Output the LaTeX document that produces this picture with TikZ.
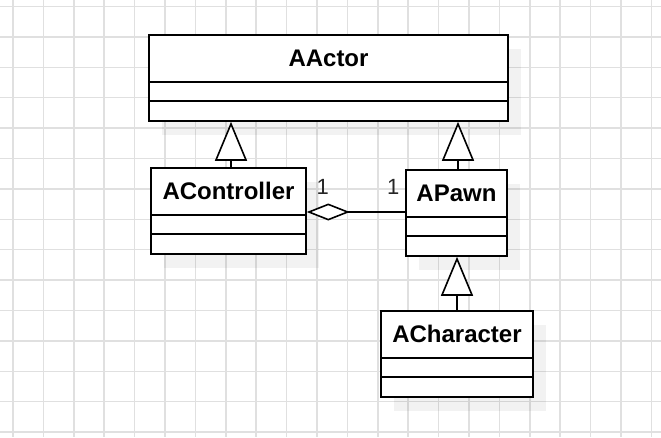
\documentclass[tikz,border=0pt]{standalone}
\usepackage{fontspec}
\setmainfont{Liberation Sans}
\usetikzlibrary{arrows.meta,shadows,calc}
\begin{document}
\begin{tikzpicture}[x=1pt,y=-1pt,
  gridline/.style={draw=black!12, line width=1.5pt},
  classbox/.style={draw=black, line width=1.6pt, fill=white, minimum height=86pt, inner sep=0pt,
    drop shadow={shadow xshift=13pt, shadow yshift=-14pt, fill=black, opacity=0.05}},
  sepline/.style={draw=black, line width=1.6pt},
  title/.style={font=\fontsize{24}{28}\selectfont\bfseries, inner sep=0pt},
  mult/.style={font=\fontsize{22}{26}\selectfont, inner sep=0pt, text=black!85},
  inherit/.style={line width=1.6pt, -{Triangle[fill=white, length=39pt, width=32pt, line width=1.6pt]}},
  agg/.style={line width=1.6pt, -{Diamond[fill=white, length=43pt, width=17pt, line width=1.6pt]}}
]
\useasboundingbox (0,0) rectangle (661,437);
\fill[white] (0,0) rectangle (661,437);
% grid
\foreach \i in {0,...,21} { \draw[gridline] (13+30.4*\i,0) -- (13+30.4*\i,437); }
\foreach \j in {0,...,14} { \draw[gridline] (0,6.5+30.4*\j) -- (661,6.5+30.4*\j); }

% classes
\node[classbox, minimum width=359pt] (actor) at (328.5,78) {};
\node[classbox, minimum width=155pt] (controller) at (228.5,211) {};
\node[classbox, minimum width=101pt] (pawn) at (456.5,213) {};
\node[classbox, minimum width=152pt] (character) at (457,354) {};

\foreach \n in {actor,controller,pawn,character} {
  \draw[sepline] ($(\n.north west)+(0,48)$) -- ($(\n.north east)+(0,48)$);
  \draw[sepline] ($(\n.north west)+(0,67)$) -- ($(\n.north east)+(0,67)$);
}

\node[title] (actorT) at ($(actor.north)+(0,24)$) {AActor};
\node[title] (controllerT) at ($(controller.north)+(0,24)$) {AController};
\node[title] (pawnT) at ($(pawn.north)+(0,24)$) {APawn};
\node[title] (characterT) at ($(character.north)+(0,24)$) {ACharacter};

% inheritance
\draw[inherit] ($(controller.north)+(2.5,0)$) -- ($(controller.north |- actor.south)+(2.5,0)$);
\draw[inherit] ($(pawn.north)+(1.5,0)$) -- ($(pawn.north |- actor.south)+(1.5,0)$);
\draw[inherit] (character.north) -- (character.north |- pawn.south);

% aggregation
\draw[agg] ($(pawn.west)+(0,-1)$) -- ($(controller.east |- pawn.west)+(0,-1)$);
\node[mult] (m1) at ($(controller.east)+(16,-24)$) {1};
\node[mult] (m2) at ($(pawn.west)+(-12,-26)$) {1};
\end{tikzpicture}
\end{document}
